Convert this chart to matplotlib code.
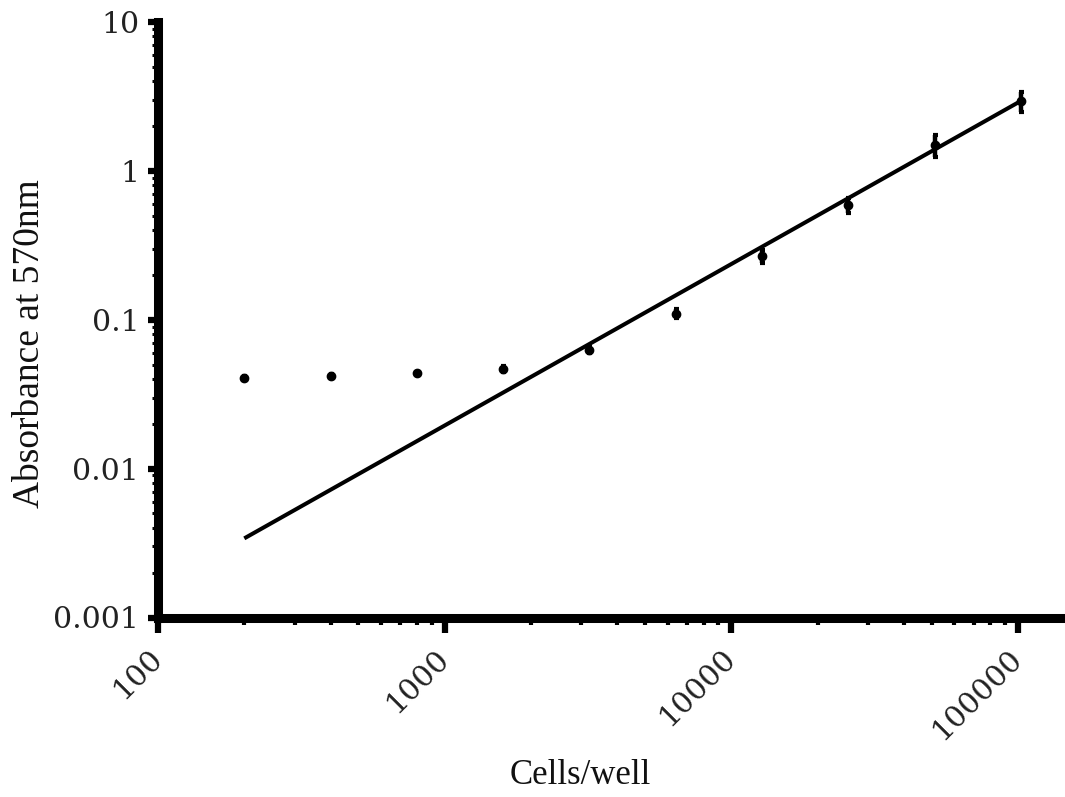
import matplotlib
matplotlib.use("Agg")
import matplotlib.pyplot as plt
from matplotlib.ticker import LogLocator, NullFormatter, FixedLocator, FixedFormatter

# ---- data ----
cells = [200, 400, 800, 1600, 3200, 6400, 12800, 25600, 51200, 102400]
absorbance = [0.0409, 0.0419, 0.0438, 0.0467, 0.0624, 0.110, 0.267, 0.59, 1.49, 2.95]
err = [0.001, 0.001, 0.001, 0.002, 0.003, 0.008, 0.025, 0.07, 0.25, 0.45]
fit_x = [200, 102400]
fit_y = [0.0034, 2.95]
x_ticks = [100, 1000, 10000, 100000]
x_labels = ["100", "1000", "10000", "100000"]
y_ticks = [0.001, 0.01, 0.1, 1, 10]
y_labels = ["0.001", "0.01", "0.1", "1", "10"]
x_title = "Cells/well"
y_title = "Absorbance at 570nm"

W, H = 1065, 797
fig = plt.figure(figsize=(W / 100, H / 100), dpi=100)
left, right, top, bottom = 158, 1062, 22, 617.5
ax = fig.add_axes([left / W, 1 - bottom / H, (right - left) / W, (bottom - top) / H])

ax.plot(fit_x, fit_y, color="black", lw=2.9, solid_capstyle="butt", zorder=2)
ax.errorbar(cells, absorbance, yerr=err, fmt="o", color="black", ms=6.0,
            elinewidth=3.2, capsize=1.8, capthick=3, zorder=3)

ax.set_xscale("log")
ax.set_yscale("log")
ax.set_xlim(100, 10 ** (5 + (right - 1018) / 286.3))
ax.set_ylim(0.001, 10)

for s in ["top", "right"]:
    ax.spines[s].set_visible(False)
for s in ["left", "bottom"]:
    ax.spines[s].set_linewidth(6.5)

ax.xaxis.set_major_locator(FixedLocator(x_ticks))
ax.xaxis.set_major_formatter(FixedFormatter(x_labels))
ax.yaxis.set_major_locator(FixedLocator(y_ticks))
ax.yaxis.set_major_formatter(FixedFormatter(y_labels))
ax.xaxis.set_minor_locator(LogLocator(base=10, subs=range(2, 10)))
ax.yaxis.set_minor_locator(LogLocator(base=10, subs=range(2, 10)))
ax.xaxis.set_minor_formatter(NullFormatter())
ax.yaxis.set_minor_formatter(NullFormatter())

ax.tick_params(axis="y", which="major", direction="out", length=7.5, width=4.5,
               color="black", pad=6, labelsize=21.5, labelcolor="#222222",
               labelfontfamily="DejaVu Serif")
ax.tick_params(axis="x", which="major", direction="out", length=10.5, width=4.5,
               color="black", pad=16, labelsize=21.5, labelcolor="#222222",
               labelfontfamily="DejaVu Serif")
ax.tick_params(axis="x", which="minor", direction="out", length=4.8, width=3.0, color="black")
ax.tick_params(axis="y", which="minor", direction="out", length=4.0, width=2.2, color="black")

for lab in ax.get_xticklabels():
    lab.set_rotation(45)
    lab.set_ha("right")
    lab.set_va("center")
    lab.set_rotation_mode("anchor")

fig.text(580 / W, 1 - 775 / H, x_title, family="Liberation Serif", fontsize=25,
         ha="center", va="center", color="#111111")
fig.text(30 / W, 1 - 344 / H, y_title, family="Liberation Serif", fontsize=27,
         ha="center", va="center", rotation=90, color="#111111")

fig.savefig("out.png", dpi=100)
